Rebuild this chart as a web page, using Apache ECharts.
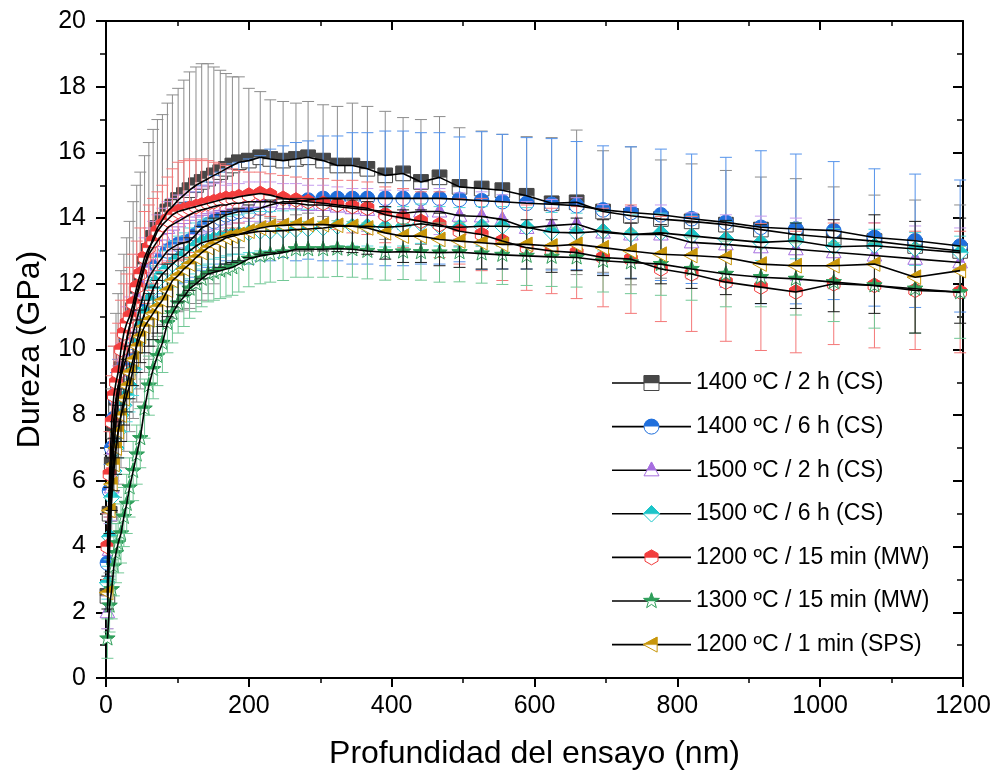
<!DOCTYPE html>
<html>
<head>
<meta charset="utf-8">
<script src="https://cdn.jsdelivr.net/npm/echarts@6/dist/echarts.min.js"></script>
<style>
  html, body { margin: 0; padding: 0; background: #fff; }
  #chart { width: 999px; height: 775px; }
</style>
</head>
<body>
<div id="chart"></div>
<script>
// Depth of the indentation (nm), shared by every sample
const depth = [2, 5, 8, 11, 14, 17, 21, 25, 29, 33, 38, 43, 48, 54, 60, 66, 72, 79, 86, 93,
    101, 109, 117, 126, 134, 143, 151, 160, 168, 177, 186, 200, 216, 230, 248, 266, 283, 304, 324, 345,
    366, 391, 416, 441, 467, 495, 526, 555, 589, 624, 659, 696, 735, 777, 820, 868, 917, 966, 1019, 1076,
    1133, 1196];

const names = ['1400 ºC / 2 h (CS)', '1400 ºC / 6 h (CS)', '1500 ºC / 2 h (CS)', '1500 ºC / 6 h (CS)',
    '1200 ºC / 15 min (MW)', '1300 ºC / 15 min (MW)', '1200 ºC / 1 min (SPS)'];

// Hardness (GPa)
const cs1400_2h = [2.5, 5.0, 6.5, 7.5, 8.3, 8.8, 9.4, 9.9, 10.3, 10.7, 11.2, 11.7, 12.1, 12.6, 13.0, 13.4, 13.7, 13.95, 14.2, 14.35,
    14.55, 14.7, 14.85, 15.0, 15.1, 15.2, 15.3, 15.4, 15.5, 15.6, 15.7, 15.75, 15.85, 15.8, 15.75, 15.8, 15.85, 15.75, 15.6, 15.6,
    15.5, 15.3, 15.36, 15.1, 15.24, 14.95, 14.9, 14.85, 14.68, 14.45, 14.48, 14.2, 14.07, 13.97, 13.9, 13.8, 13.65, 13.5, 13.4, 13.3,
    13.15, 13.0];
const cs1400_6h = [3.5, 5.7, 7.0, 7.9, 8.5, 8.9, 9.2, 9.5, 9.8, 10.1, 10.5, 10.9, 11.3, 11.8, 12.2, 12.4, 12.6, 12.8, 13.0, 13.1,
    13.2, 13.25, 13.3, 13.5, 13.7, 13.8, 13.9, 14.0, 14.1, 14.15, 14.2, 14.2, 14.3, 14.4, 14.5, 14.5, 14.55, 14.6, 14.6, 14.6,
    14.6, 14.6, 14.6, 14.6, 14.6, 14.57, 14.53, 14.5, 14.45, 14.42, 14.38, 14.25, 14.17, 14.1, 13.98, 13.87, 13.72, 13.67, 13.62, 13.41,
    13.31, 13.15];
const cs1500_2h = [2.0, 3.9, 5.8, 7.0, 7.8, 8.5, 9.2, 9.8, 10.3, 10.7, 11.1, 11.6, 12.0, 12.5, 12.9, 13.1, 13.3, 13.5, 13.7, 13.8,
    13.9, 14.0, 14.1, 14.2, 14.25, 14.3, 14.35, 14.4, 14.4, 14.45, 14.45, 14.5, 14.5, 14.5, 14.45, 14.45, 14.4, 14.4, 14.35, 14.3,
    14.25, 14.2, 14.15, 14.2, 14.2, 14.07, 14.05, 13.96, 13.7, 13.77, 13.82, 13.56, 13.5, 13.5, 13.26, 13.2, 13.11, 13.05, 12.96, 12.86,
    12.76, 12.65];
const cs1500_6h = [2.9, 4.3, 5.5, 6.3, 7.0, 7.5, 8.0, 8.3, 8.6, 8.9, 9.4, 10.2, 10.7, 11.1, 11.5, 11.85, 12.1, 12.3, 12.45, 12.6,
    12.75, 12.85, 13.0, 13.15, 13.25, 13.3, 13.35, 13.4, 13.45, 13.5, 13.5, 13.55, 13.6, 13.6, 13.62, 13.65, 13.67, 13.7, 13.75, 13.75,
    13.75, 13.72, 13.75, 13.83, 13.75, 13.72, 13.75, 13.75, 13.72, 13.57, 13.55, 13.6, 13.5, 13.55, 13.46, 13.36, 13.26, 13.31, 13.13, 13.16,
    13.06, 12.95];
const mw1200_15 = [4.0, 6.2, 7.8, 8.6, 9.0, 9.3, 10.0, 10.5, 10.8, 11.0, 11.4, 11.9, 12.3, 12.8, 13.1, 13.3, 13.6, 13.8, 13.95, 14.1,
    14.2, 14.25, 14.3, 14.35, 14.4, 14.45, 14.5, 14.55, 14.6, 14.6, 14.65, 14.7, 14.75, 14.7, 14.6, 14.55, 14.5, 14.45, 14.4, 14.35,
    14.3, 14.1, 14.0, 13.9, 13.8, 13.6, 13.5, 13.3, 13.1, 13.0, 12.95, 12.8, 12.75, 12.45, 12.3, 12.05, 11.9, 11.75, 12.0, 11.95,
    11.8, 11.75];
const mw1300_15 = [1.2, 2.2, 2.7, 3.4, 3.8, 4.1, 4.4, 4.9, 5.3, 5.8, 6.3, 6.8, 7.3, 8.2, 8.9, 9.4, 9.8, 10.2, 10.8, 11.1,
    11.4, 11.6, 11.85, 12.0, 12.15, 12.3, 12.35, 12.4, 12.45, 12.5, 12.6, 12.76, 12.85, 12.9, 12.95, 13.05, 13.05, 13.05, 13.07, 13.05,
    13.0, 12.96, 12.98, 12.96, 12.95, 12.96, 12.92, 12.88, 12.85, 12.82, 12.8, 12.7, 12.65, 12.6, 12.45, 12.3, 12.2, 12.15, 12.05, 11.95,
    11.85, 11.74];
const sps1200_1 = [2.6, 5.1, 5.9, 6.5, 7.0, 7.5, 8.0, 8.5, 8.9, 9.3, 9.7, 10.1, 10.4, 10.7, 10.9, 11.1, 11.3, 11.5, 11.8, 12.1,
    12.25, 12.45, 12.6, 12.8, 12.95, 13.1, 13.2, 13.3, 13.4, 13.45, 13.5, 13.6, 13.7, 13.75, 13.78, 13.8, 13.8, 13.8, 13.78, 13.75,
    13.7, 13.55, 13.45, 13.45, 13.35, 13.3, 13.25, 13.2, 13.2, 13.15, 13.2, 13.1, 13.0, 12.9, 12.86, 12.8, 12.6, 12.55, 12.55, 12.6,
    12.2, 12.4];

// Standard deviations (GPa)
const err1400_2h = [1.0, 1.8, 2.3, 2.6, 2.8, 2.9, 3.0, 3.0, 3.1, 3.2, 3.3, 3.3, 3.3, 3.3, 3.3, 3.3, 3.3, 3.2, 3.3, 3.4,
    3.4, 3.5, 3.6, 3.6, 3.6, 3.5, 3.3, 3.1, 2.9, 2.7, 2.6, 2.2, 2.0, 1.8, 1.8, 1.7, 1.7, 1.7, 1.8, 1.9,
    1.9, 1.95, 1.7, 1.9, 1.85, 1.8, 1.75, 1.7, 1.8, 2.0, 2.2, 1.85, 2.1, 1.8, 1.75, 1.65, 1.6, 1.7, 1.55, 1.4,
    1.4, 1.4];
const err1400_6h = [0.6, 0.8, 0.8, 0.8, 0.8, 0.8, 0.8, 0.8, 0.9, 0.9, 0.9, 0.9, 1.0, 1.0, 1.0, 1.0, 1.0, 1.1, 1.1, 1.1,
    1.2, 1.2, 1.2, 1.3, 1.3, 1.3, 1.4, 1.4, 1.4, 1.5, 1.5, 1.6, 1.6, 1.7, 1.7, 1.8, 1.8, 1.9, 1.9, 2.0,
    2.0, 2.05, 2.05, 2.0, 2.0, 1.9, 2.1, 2.05, 2.0, 2.0, 1.95, 1.95, 2.0, 2.0, 1.97, 1.98, 2.33, 2.28, 2.1, 2.09,
    2.03, 2.01];
const err1500_2h = [0.5, 0.8, 1.0, 1.0, 1.0, 1.0, 1.0, 1.0, 1.0, 0.9, 0.9, 0.9, 0.9, 0.9, 0.8, 0.8, 0.8, 0.8, 0.8, 0.8,
    0.8, 0.7, 0.7, 0.7, 0.7, 0.7, 0.7, 0.7, 0.6, 0.6, 0.6, 0.6, 0.6, 0.6, 0.6, 0.6, 0.6, 0.6, 0.6, 0.6,
    0.65, 0.65, 0.7, 0.7, 0.7, 0.7, 0.75, 0.75, 0.8, 0.8, 0.8, 0.85, 0.85, 0.9, 0.9, 0.9, 0.95, 0.95, 1.0, 1.0,
    1.0, 1.05];
const err1500_6h = [0.5, 0.7, 0.8, 0.8, 0.8, 0.8, 0.8, 0.8, 0.8, 0.8, 0.8, 0.8, 0.8, 0.8, 0.7, 0.7, 0.7, 0.7, 0.7, 0.7,
    0.7, 0.7, 0.7, 0.7, 0.7, 0.7, 0.6, 0.6, 0.6, 0.6, 0.6, 0.6, 0.6, 0.6, 0.6, 0.6, 0.6, 0.6, 0.6, 0.6,
    0.6, 0.6, 0.6, 0.6, 0.6, 0.6, 0.6, 0.6, 0.6, 0.6, 0.6, 0.6, 0.6, 0.6, 0.6, 0.55, 0.55, 0.55, 0.55, 0.5,
    0.5, 0.5];
const err1200_15 = [1.0, 1.3, 1.4, 1.5, 1.5, 1.5, 1.5, 1.5, 1.5, 1.5, 1.5, 1.4, 1.4, 1.4, 1.3, 1.3, 1.2, 1.2, 1.3, 1.4,
    1.5, 1.5, 1.5, 1.4, 1.4, 1.3, 1.2, 1.1, 1.0, 0.9, 0.8, 0.7, 0.65, 0.65, 0.7, 0.7, 0.7, 0.75, 0.75, 0.8,
    0.8, 0.85, 0.9, 0.9, 1.0, 1.0, 1.1, 1.2, 1.3, 1.3, 1.4, 1.5, 1.65, 1.6, 1.75, 1.8, 1.93, 1.85, 1.85, 1.9,
    1.8, 1.85];
const err1300_15 = [0.6, 0.8, 0.9, 0.9, 0.9, 0.9, 0.9, 0.9, 0.9, 0.9, 0.9, 0.9, 0.9, 0.9, 0.9, 0.9, 0.9, 0.9, 0.9, 0.9,
    0.9, 0.9, 0.9, 0.85, 0.85, 0.85, 0.85, 0.85, 0.85, 0.85, 0.85, 0.85, 0.85, 0.85, 0.85, 0.85, 0.85, 0.85, 0.85, 0.85,
    0.85, 0.85, 0.85, 0.85, 0.9, 0.9, 0.9, 0.9, 0.9, 0.9, 0.9, 0.95, 0.95, 0.95, 0.95, 1.0, 0.9, 1.1, 1.2, 1.3,
    1.35, 1.4];
const err1200_1 = [0.5, 0.7, 0.8, 0.8, 0.8, 0.8, 0.8, 0.8, 0.8, 0.8, 0.8, 0.8, 0.8, 0.8, 0.8, 0.8, 0.8, 0.8, 0.8, 0.8,
    0.8, 0.8, 0.8, 0.8, 0.8, 0.8, 0.8, 0.8, 0.8, 0.8, 0.8, 0.8, 0.8, 0.8, 0.8, 0.8, 0.8, 0.8, 0.8, 0.8,
    0.8, 0.8, 0.8, 0.8, 0.8, 0.8, 0.8, 0.75, 0.75, 0.8, 0.8, 0.85, 0.85, 0.9, 1.0, 1.13, 1.2, 1.3, 1.4, 1.5,
    1.7, 1.6];

const xTicks = [0, 200, 400, 600, 800, 1000, 1200];
const yTicks = [0, 2, 4, 6, 8, 10, 12, 14, 16, 18, 20];

const values = [cs1400_2h, cs1400_6h, cs1500_2h, cs1500_6h, mw1200_15, mw1300_15, sps1200_1];
const errors = [err1400_2h, err1400_6h, err1500_2h, err1500_6h, err1200_15, err1300_15, err1200_1];

// marker shape, marker colour, error bar colour
const looks = [
    ['square', '#474747', '#8c8c8c'],
    ['circle', '#1f6fdc', '#5593ea'],
    ['triangle', '#a66ee0', '#c49cee'],
    ['diamond', '#1bc5c9', '#55d8da'],
    ['hexagon', '#f23d3d', '#f47878'],
    ['star', '#2e9e5a', '#72c896'],
    ['leftTriangle', '#c8960a', '#1a1a1a']
];

const FONT = "'Liberation Sans', Arial, sans-serif";

const outline = (kind, cx, cy, r) => {
    if (kind === 'square') return [[cx - r, cy - r], [cx + r, cy - r], [cx + r, cy + r], [cx - r, cy + r]];
    if (kind === 'triangle') return [[cx, cy - r * 1.1], [cx + r, cy + r * 0.75], [cx - r, cy + r * 0.75]];
    if (kind === 'diamond') return [[cx, cy - r * 1.1], [cx + r * 1.1, cy], [cx, cy + r * 1.1], [cx - r * 1.1, cy]];
    if (kind === 'leftTriangle') return [[cx - r * 1.1, cy], [cx + r * 0.75, cy - r], [cx + r * 0.75, cy + r]];
    if (kind === 'hexagon') {
        return [0, 1, 2, 3, 4, 5].map(k => {
            const a = (-90 + 60 * k) * Math.PI / 180;
            return [cx + r * Math.cos(a), cy + r * Math.sin(a)];
        });
    }
    // star
    const pts = [];
    for (let k = 0; k < 10; k++) {
        const a = (-90 + 36 * k) * Math.PI / 180;
        const rr = k % 2 === 0 ? r * 1.1 : r * 0.45;
        pts.push([cx + rr * Math.cos(a), cy + rr * Math.sin(a)]);
    }
    return pts;
};

// keep the part of a polygon above the horizontal line y = cy
const clipTop = (pts, cy) => {
    const out = [];
    for (let i = 0; i < pts.length; i++) {
        const a = pts[i], b = pts[(i + 1) % pts.length];
        const ain = a[1] <= cy, bin = b[1] <= cy;
        if (ain) out.push(a);
        if (ain !== bin) {
            const t = (cy - a[1]) / (b[1] - a[1]);
            out.push([a[0] + t * (b[0] - a[0]), cy]);
        }
    }
    return out;
};

const markerShapes = (kind, color, cx, cy, r) => {
    if (kind === 'circle') {
        return [
            { type: 'circle', shape: { cx, cy, r }, style: { fill: '#fff', stroke: color, lineWidth: 1 } },
            { type: 'sector', shape: { cx, cy, r0: 0, r, startAngle: Math.PI, endAngle: Math.PI * 2, clockwise: true },
              style: { fill: color } }
        ];
    }
    const pts = outline(kind, cx, cy, r);
    return [
        { type: 'polygon', shape: { points: pts }, style: { fill: '#fff', stroke: color, lineWidth: 1 } },
        { type: 'polygon', shape: { points: clipTop(pts, cy) }, style: { fill: color, stroke: color, lineWidth: 0.5 } }
    ];
};

// legend icon: black line with the half filled marker, as an svg image
const legendIcon = (kind, color) => {
    const cx = 39.5, cy = 11, r = 7.5;
    let mark;
    if (kind === 'circle') {
        mark = `<circle cx="${cx}" cy="${cy}" r="${r}" fill="#fff" stroke="${color}" stroke-width="1"/>` +
            `<path d="M${cx - r} ${cy} A${r} ${r} 0 0 1 ${cx + r} ${cy} Z" fill="${color}"/>`;
    } else {
        const pts = outline(kind, cx, cy, r);
        const str = p => p.map(q => q[0].toFixed(2) + ',' + q[1].toFixed(2)).join(' ');
        mark = `<polygon points="${str(pts)}" fill="#fff" stroke="${color}" stroke-width="1"/>` +
            `<polygon points="${str(clipTop(pts, cy))}" fill="${color}" stroke="${color}" stroke-width="0.5"/>`;
    }
    const svg = `<svg xmlns="http://www.w3.org/2000/svg" width="79" height="22" viewBox="0 0 79 22">` +
        `<line x1="0" y1="11" x2="79" y2="11" stroke="#000" stroke-width="1.6"/>${mark}</svg>`;
    return 'image://data:image/svg+xml;charset=utf-8,' + encodeURIComponent(svg);
};

const makeRender = (kind, color, barColor) => (params, api) => {
    const x = api.value(0), y = api.value(1), e = api.value(2);
    const p = api.coord([x, y]);
    const hi = api.coord([x, y + e])[1];
    const lo = api.coord([x, y - e])[1];
    const cap = 6;
    const bar = { stroke: barColor, lineWidth: 1 };
    return {
        type: 'group',
        children: [
            { type: 'line', shape: { x1: p[0], y1: hi, x2: p[0], y2: lo }, style: bar },
            { type: 'line', shape: { x1: p[0] - cap, y1: hi, x2: p[0] + cap, y2: hi }, style: bar },
            { type: 'line', shape: { x1: p[0] - cap, y1: lo, x2: p[0] + cap, y2: lo }, style: bar }
        ].concat(markerShapes(kind, color, p[0], p[1], 7.3))
    };
};

const series = [];
values.forEach((vals, i) => {
    const [kind, color, barColor] = looks[i];
    series.push({
        name: names[i],
        type: 'line',
        data: depth.map((d, j) => [d, vals[j]]),
        symbol: 'none',
        lineStyle: { color: '#000', width: 1.6 },
        silent: true
    });
    series.push({
        name: names[i],
        type: 'custom',
        data: depth.map((d, j) => [d, vals[j], errors[i][j]]),
        renderItem: makeRender(kind, color, barColor),
        silent: true
    });
});

const baseX = {
    type: 'value', min: xTicks[0], max: xTicks[xTicks.length - 1], interval: 200,
    axisLine: { show: true, onZero: false, lineStyle: { color: '#000', width: 2 } },
    splitLine: { show: false }
};
const baseY = {
    type: 'value', min: yTicks[0], max: yTicks[yTicks.length - 1], interval: 2,
    axisLine: { show: true, onZero: false, lineStyle: { color: '#000', width: 2 } },
    splitLine: { show: false }
};

const myChart = echarts.init(document.querySelector('#chart'));

myChart.setOption({
    animation: false,
    backgroundColor: '#fff',
    grid: { left: 106, right: 36, top: 21, bottom: 97 },
    legend: {
        orient: 'vertical',
        left: 607,
        top: 366,
        itemWidth: 79,
        itemHeight: 22,
        itemGap: 19.6,
        selectedMode: false,
        textStyle: { fontSize: 23, lineHeight: 24, color: '#000', fontFamily: FONT },
        data: names.map((n, i) => ({ name: n, icon: legendIcon(looks[i][0], looks[i][1]) }))
    },
    xAxis: [
        Object.assign({}, baseX, {
            position: 'bottom',
            name: 'Profundidad del ensayo (nm)',
            nameLocation: 'middle',
            nameGap: 60,
            nameTextStyle: { fontSize: 32, color: '#000', fontFamily: FONT },
            axisTick: { show: true, inside: false, length: 9, lineStyle: { color: '#000', width: 2 } },
            minorTick: { show: true, splitNumber: 2, length: 5, lineStyle: { color: '#000', width: 1.5 } },
            axisLabel: { fontSize: 25, color: '#000', fontFamily: FONT, margin: 16, formatter: v => String(v) }
        }),
        Object.assign({}, baseX, {
            position: 'top',
            axisTick: { show: true, inside: true, length: 9, lineStyle: { color: '#000', width: 2 } },
            minorTick: { show: true, splitNumber: 2, length: 5, lineStyle: { color: '#000', width: 1.5 } },
            axisLabel: { show: false }
        })
    ],
    yAxis: [
        Object.assign({}, baseY, {
            position: 'left',
            name: 'Dureza (GPa)',
            nameLocation: 'middle',
            nameGap: 60,
            nameTextStyle: { fontSize: 32, color: '#000', fontFamily: FONT },
            axisTick: { show: true, inside: false, length: 10, lineStyle: { color: '#000', width: 2 } },
            minorTick: { show: true, splitNumber: 2, length: 6, lineStyle: { color: '#000', width: 1.5 } },
            axisLabel: { fontSize: 25, color: '#000', fontFamily: FONT, margin: 20, formatter: v => String(v) }
        }),
        Object.assign({}, baseY, {
            position: 'right',
            axisTick: { show: true, inside: true, length: 10, lineStyle: { color: '#000', width: 2 } },
            minorTick: { show: true, splitNumber: 2, length: 6, lineStyle: { color: '#000', width: 1.5 } },
            axisLabel: { show: false }
        })
    ],
    series
});
</script>
</body>
</html>
